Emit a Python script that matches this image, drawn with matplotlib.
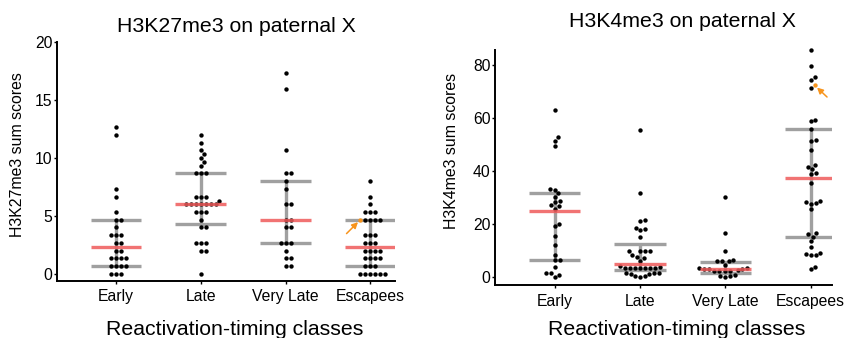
import numpy as np
import matplotlib
matplotlib.use('Agg')
import matplotlib.pyplot as plt

plt.rcParams['font.family'] = ['Liberation Sans', 'DejaVu Sans']

categories = ['Early', 'Late', 'Very Late', 'Escapees']

# H3K27me3 sum scores (left panel)
k27_early = [12.67, 12, 7.33, 6.67, 5.33, 4.67, 4.67, 4, 3.33, 3.33, 3.33, 2.67, 2.67,
             2, 2, 1.33, 1.33, 1.33, 1.33, 0.67, 0.67, 0.67, 0.67, 0, 0, 0]
k27_late = [12, 11.33, 10.67, 10.33, 10, 9.67, 9.33, 8.67, 8.67, 8.67, 6.67, 6.67, 6.67,
            6.33, 6, 6, 6, 6, 6, 6, 6, 5.33, 5.33, 5.33, 4.67, 4, 4, 2.67, 2.67, 2.67,
            2, 2, 0]
k27_vlate = [17.33, 16, 10.67, 8.67, 8.67, 8, 7.33, 6, 6, 4.67, 4.67, 4, 4, 2.67, 2.67,
             2.67, 2, 1.33, 1.33, 0.67, 0.67]
k27_esc = [8, 6.67, 6, 5.33, 5.33, 5.33, 4.67, 4.67, 4.67, 4.67, 3.33, 3.33, 3.33,
           2.67, 2.67, 2.67, 2, 2, 2, 2, 1.33, 1.33, 1.33, 1.33, 0.67, 0.67, 0.67,
           0, 0, 0, 0, 0, 0]
k27_mark = 4.67
k27_med = [2.33, 6, 4.67, 2.33]
k27_q1 = [0.67, 4.33, 2.67, 0.67]
k27_q3 = [4.67, 8.67, 8, 4.67]

# H3K4me3 sum scores (right panel)
k4_early = [63.2, 52.8, 51.5, 49.4, 33.0, 32.8, 31.5, 30.2, 28.6, 28.3, 27.0, 26.8, 25.6,
            19.8, 19.2, 15.6, 11.9, 8.3, 6.5, 6.3, 3.8, 1.6, 1.3, 0.8, 0.0]
k4_late = [55.6, 31.6, 21.6, 21.0, 18.4, 18.0, 17.5, 15.0, 9.9, 9.8, 9.7, 9.6, 8.4, 7.4,
           7.2, 6.0, 4.0, 3.6, 3.5, 3.5, 3.4, 3.4, 3.3, 3.3, 3.2, 1.5, 1.4, 1.3, 1.2,
           1.1, 0.4, 0.2, 0.0]
k4_vlate = [30.2, 16.4, 9.9, 6.4, 6.0, 5.9, 5.8, 4.4, 3.3, 3.2, 3.1, 3.0, 3.0, 2.4, 2.3,
            2.2, 2.2, 2.1, 0.8, 0.4, 0.2, 0.0]
k4_esc = [85.6, 79.8, 75.4, 74.5, 71.2, 59.4, 58.7, 55.8, 51.7, 51.4, 47.8, 42.2, 41.4,
          40.6, 39.2, 38.8, 35.4, 28.8, 28.4, 27.7, 27.6, 25.6, 16.5, 16.0, 15.2, 13.5,
          11.1, 9.1, 8.8, 8.3, 8.2, 3.6, 3.0]
k4_mark = 72.4
k4_med = [24.9, 5.0, 3.1, 37.2]
k4_q1 = [6.4, 2.7, 1.5, 15.0]
k4_q3 = [31.5, 12.5, 5.7, 55.7]

GRAY = '#a0a0a0'
RED = '#ef5a5a'
ORANGE = '#f7941d'
W, H = 848, 338

fig = plt.figure(figsize=(W / 100, H / 100), dpi=100)


def add_axes_px(x0, x1, ytop, ybot):
    return fig.add_axes([x0 / W, 1 - ybot / H, (x1 - x0) / W, (ybot - ytop) / H])


def swarm_x(ax, xc, vals, d=5.0):
    # simple beeswarm in pixel space, lowest values placed first
    vals = np.asarray(vals, dtype=float)
    pts = ax.transData.transform(np.column_stack([np.full(len(vals), xc), vals]))
    ypx = pts[:, 1]
    order = np.argsort(vals, kind='stable')
    placed = []
    dx = np.zeros(len(vals))
    for i in order:
        y = ypx[i]
        near = [(px, py) for px, py in placed if abs(py - y) < d]
        cands = [0.0]
        for px, py in near:
            off = np.sqrt(d * d - (py - y) ** 2)
            cands += [px + off, px - off]
        cands.sort(key=lambda c: (round(abs(c), 6), -c))
        for c in cands:
            if all((c - px) ** 2 + (y - py) ** 2 >= d * d - 1e-6 for px, py in near):
                break
        dx[i] = c
        placed.append((c, y))
    back = ax.transData.inverted().transform(np.column_stack([pts[:, 0] + dx, ypx]))
    return back[:, 0]


def panel(ax, groups, mark, med, q1, q3, ylim, yticks, arrow_off):
    ax.set_xlim(*ylim[0])
    ax.set_ylim(*ylim[1])
    for i, vals in enumerate(groups):
        allv = list(vals) + ([mark] if i == 3 else [])
        xs = swarm_x(ax, i, allv)
        n = len(vals)
        ax.vlines(i, q1[i], q3[i], color=GRAY, lw=2.4, zorder=1)
        ax.hlines([q1[i], q3[i]], i - 0.3, i + 0.3, color=GRAY, lw=2.4, zorder=1)
        ax.scatter(xs[:n], allv[:n], s=10, c='black', linewidths=0, zorder=3, clip_on=False)
        ax.hlines(med[i], i - 0.3, i + 0.3, color=RED, lw=2.4, alpha=0.85, zorder=4)
        if i == 3:
            ax.scatter(xs[n:], allv[n:], s=10, c=ORANGE, linewidths=0, zorder=5, clip_on=False)
            ax.annotate('', xy=(xs[n], allv[n]), xytext=arrow_off, textcoords='offset points',
                        arrowprops=dict(arrowstyle='-|>,head_length=0.35,head_width=0.18',
                                        color=ORANGE, lw=1.1, shrinkA=0, shrinkB=2.5))
    ax.set_xticks(range(4))
    ax.set_xticklabels(categories)
    ax.set_yticks(yticks)
    for s in ['top', 'right']:
        ax.spines[s].set_visible(False)
    for s in ['left', 'bottom']:
        ax.spines[s].set_linewidth(1.4)
    ax.tick_params(axis='both', direction='out', length=2.2, width=1.0, labelsize=11.3)
    ax.tick_params(axis='y', pad=1)
    ax.tick_params(axis='x', pad=4)


ax1 = add_axes_px(56.7, 395, 42.3, 280.7)
panel(ax1, [k27_early, k27_late, k27_vlate, k27_esc], k27_mark, k27_med, k27_q1, k27_q3,
      ((-0.70, 3.29), (-0.6, 20)), [0, 5, 10, 15, 20], (-10, -10))

ax2 = add_axes_px(495, 832, 50, 285)
panel(ax2, [k4_early, k4_late, k4_vlate, k4_esc], k4_mark, k4_med, k4_q1, k4_q3,
      ((-0.70, 3.25), (-3.1, 85.7)), [0, 20, 40, 60, 80], (9, -8.5))

fig.text(236 / W, 1 - 31.7 / H, 'H3K27me3 on paternal X', ha='center', va='baseline', fontsize=15.3)
fig.text(682.5 / W, 1 - 27.3 / H, 'H3K4me3 on paternal X', ha='center', va='baseline', fontsize=15.3)
fig.text(18 / W, 1 - 154.5 / H, 'H3K27me3 sum scores', rotation=90, ha='center', va='center', fontsize=11.4)
fig.text(451 / W, 1 - 151 / H, 'H3K4me3 sum scores', rotation=90, ha='center', va='center', fontsize=11.4)
fig.text(235 / W, 1 - 335 / H, 'Reactivation-timing classes', ha='center', va='baseline', fontsize=15.3)
fig.text(677 / W, 1 - 335 / H, 'Reactivation-timing classes', ha='center', va='baseline', fontsize=15.3)

fig.savefig('out.png', dpi=100)
